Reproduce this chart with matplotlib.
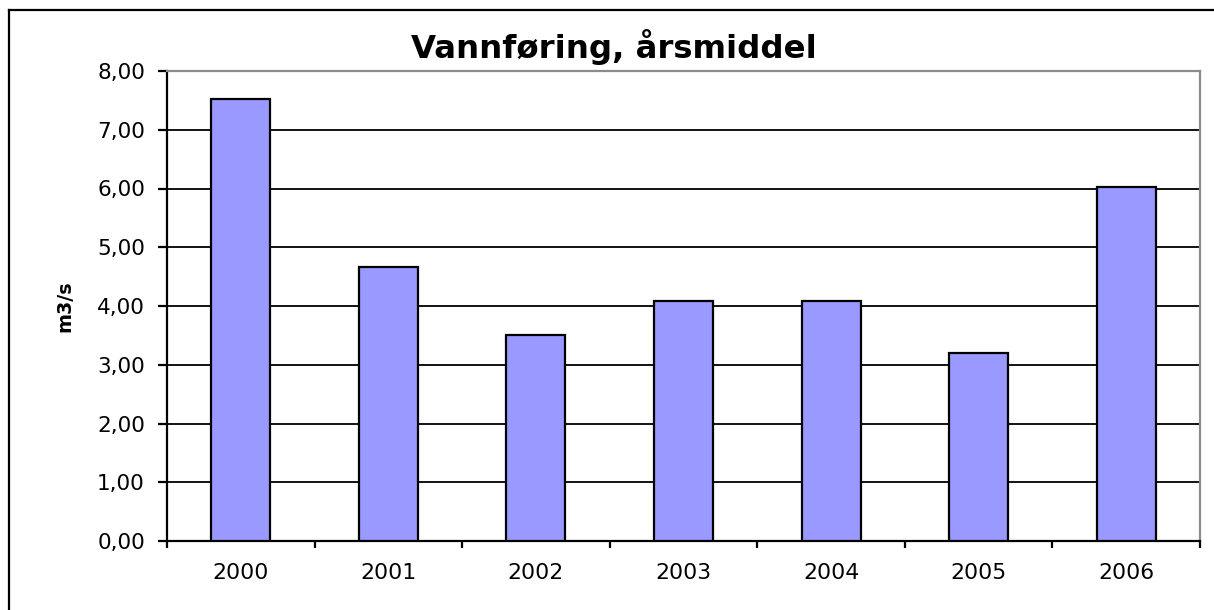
import matplotlib
matplotlib.use("Agg")
import matplotlib.pyplot as plt
from matplotlib.lines import Line2D
from matplotlib.ticker import FuncFormatter, FixedLocator
import numpy as np

years = ["2000", "2001", "2002", "2003", "2004", "2005", "2006"]
flow = [7.52, 4.67, 3.51, 4.09, 4.09, 3.20, 6.03]
y_ticks = [0, 1, 2, 3, 4, 5, 6, 7, 8]

W, H = 1214, 610
plt.rcParams["font.family"] = ["DejaVu Sans"]

fig = plt.figure(figsize=(W / 100, H / 100), dpi=100)
ax = fig.add_axes([167 / W, 1 - 541 / H, (1200 - 167) / W, (541 - 71) / H])

x = np.arange(len(years))
ax.bar(x, flow, width=0.4, color="#9999FF", edgecolor="black", linewidth=1.6, zorder=3)

ax.set_xlim(-0.5, len(years) - 0.5)
ax.set_ylim(0, 8)
ax.set_yticks(y_ticks)
ax.yaxis.set_major_formatter(FuncFormatter(lambda v, p: f"{v:.2f}".replace(".", ",")))
ax.grid(axis="y", color="black", linewidth=1.3, zorder=1)

ax.set_xticks(x)
ax.set_xticklabels(years)
ax.xaxis.set_minor_locator(FixedLocator(np.arange(-0.5, len(years), 1.0)))
ax.tick_params(axis="x", which="major", length=0, pad=16, labelsize=15.8)
ax.tick_params(axis="x", which="minor", length=5, width=1.6, direction="out")
ax.tick_params(axis="y", length=6.5, width=1.6, pad=9.4, labelsize=15.5, direction="out")

for side in ("left", "bottom"):
    ax.spines[side].set_color("black")
    ax.spines[side].set_linewidth(1.6)
for side in ("top", "right"):
    ax.spines[side].set_color("#8c8c8c")
    ax.spines[side].set_linewidth(1.6)

fig.text(64.5 / W, 1 - 306 / H, "m3/s", rotation=90, ha="center", va="center",
         fontsize=13.8, fontweight="bold")
fig.text(614 / W, 1 - 58 / H, "Vannføring, årsmiddel", ha="center", va="baseline",
         fontsize=23.3, fontweight="bold")

# outer chart frame (only left and top edges are inside the image)
fig.add_artist(Line2D([8.5 / W, 8.5 / W], [-0.1, 1 - 10 / H], color="black", linewidth=1.6,
                      transform=fig.transFigure))
fig.add_artist(Line2D([8.5 / W, 1.1], [1 - 10 / H, 1 - 10 / H], color="black", linewidth=1.6,
                      transform=fig.transFigure))

fig.savefig("out.png", dpi=100)
